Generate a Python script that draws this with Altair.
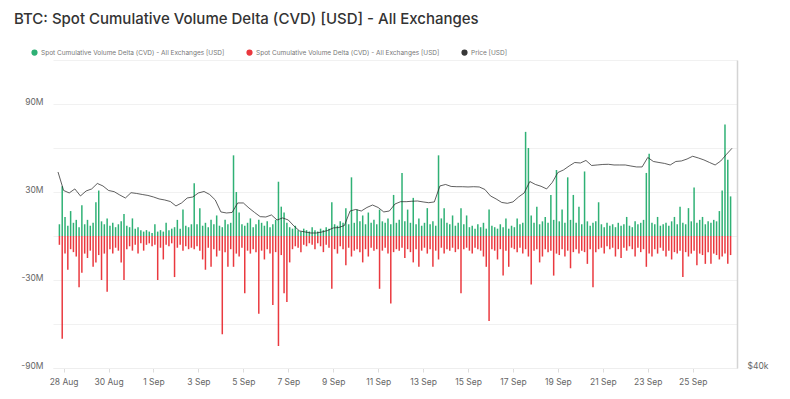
import altair as alt
import pandas as pd

TITLE = "BTC: Spot Cumulative Volume Delta (CVD) [USD] - All Exchanges"
LBL_BUY = "Spot Cumulative Volume Delta (CVD) - All Exchanges [USD]"
LBL_SELL = "Spot Cumulative Volume Delta (CVD) - All Exchanges [USD] "
LBL_PRICE = "Price [USD]"

# 3-hour buckets, starting 27 Aug 18:00 (values in USD millions)
buy_m = [
    8, 34, 13, 7, 17, 9, 11, 6, 21, 8, 11, 7, 9, 23, 31, 10, 8, 12, 7, 9, 6, 8, 10, 15,
    7, 6, 12, 5, 6, 4, 3, 4, 3, 2, 8, 3, 4, 3, 9, 4, 5, 6, 11, 5, 18, 7, 6, 8,
    36, 8, 19, 7, 9, 6, 11, 8, 14, 7, 6, 11, 8, 9, 55, 30, 16, 8, 7, 9, 12, 6, 8, 11,
    9, 7, 10, 6, 8, 11, 37, 20, 16, 9, 6, 5, 7, 4, 3, 5, 4, 3, 6, 4, 3, 5, 4, 6,
    5, 23, 8, 7, 10, 9, 19, 8, 40, 9, 18, 10, 14, 8, 16, 9, 11, 8, 18, 10, 9, 12, 8, 28,
    9, 11, 43, 10, 18, 9, 26, 8, 12, 7, 9, 19, 8, 10, 7, 55, 12, 19, 9, 8, 14, 7, 9, 19,
    8, 14, 6, 7, 5, 8, 6, 9, 5, 18, 7, 6, 5, 8, 6, 12, 5, 7, 6, 12, 8, 9, 71, 60,
    14, 9, 20, 8, 10, 13, 9, 28, 11, 45, 10, 18, 9, 40, 11, 28, 9, 20, 8, 44, 10, 7, 9, 10,
    23, 8, 6, 9, 7, 8, 6, 9, 7, 8, 13, 7, 6, 10, 8, 9, 11, 43, 56, 9, 8, 13, 7, 8,
    9, 7, 10, 13, 8, 20, 9, 8, 19, 10, 33, 9, 11, 13, 8, 10, 9, 11, 10, 17, 31, 76, 52, 27,
]
sell_m = [
    -6, -70, -12, -23, -9, -11, -14, -35, -25, -12, -15, -10, -21, -18, -13, -30, -12, -38, -9, -12, -8, -10, -18, -30,
    -9, -7, -10, -6, -12, -5, -10, -6, -5, -7, -6, -30, -8, -16, -6, -7, -5, -28, -8, -6, -10, -7, -9, -8,
    -9, -7, -10, -16, -23, -8, -21, -9, -14, -10, -67, -11, -21, -9, -21, -12, -14, -8, -39, -10, -12, -9, -11, -53,
    -10, -16, -9, -12, -47, -11, -75, -13, -39, -45, -18, -9, -7, -8, -11, -6, -7, -5, -6, -9, -5, -7, -11, -6,
    -8, -36, -9, -12, -7, -9, -20, -8, -14, -10, -9, -11, -18, -9, -14, -8, -10, -9, -36, -10, -8, -12, -46, -11,
    -9, -10, -8, -15, -9, -11, -18, -9, -21, -10, -8, -12, -9, -21, -10, -16, -8, -12, -9, -10, -8, -11, -9, -39,
    -9, -8, -10, -12, -8, -9, -10, -14, -21, -58, -9, -10, -16, -9, -27, -10, -21, -8, -9, -11, -8, -12, -9, -14,
    -33, -10, -9, -18, -14, -9, -11, -10, -27, -12, -13, -9, -14, -10, -22, -11, -9, -12, -10, -11, -19, -9, -35, -11,
    -9, -8, -12, -7, -9, -8, -14, -9, -15, -8, -10, -7, -9, -14, -8, -11, -9, -21, -12, -14, -9, -12, -8, -10,
    -14, -10, -16, -11, -12, -10, -28, -11, -14, -12, -10, -20, -12, -13, -19, -11, -19, -12, -13, -16, -14, -12, -19, -13,
]
# 6-hour samples of price (USD), starting 27 Aug 18:00
price_usd = [
    62910, 60750, 60460, 60930, 60110, 60690, 60930, 61570, 61280, 60750, 60610, 60220,
    59870, 60490, 60400, 60280, 60170, 59990, 59760, 59640, 59460, 58940, 59290, 59870,
    59990, 60460, 60630, 60280, 59640, 58240, 58120, 58180, 59290, 59290, 58700, 58180,
    57690, 57650, 57890, 57300, 57540, 57300, 56600, 56020, 55900, 55780, 55780, 55900,
    56070, 56370, 56420, 56660, 58350, 58530, 58350, 58760, 59050, 58760, 58240, 58350,
    59170, 59440, 59440, 59490, 59520, 59410, 59320, 59410, 61280, 61450, 61220, 61190,
    61190, 61160, 61190, 61160, 60870, 60110, 59760, 59350, 59250, 59410, 59990, 60460,
    61800, 61450, 61240, 60930, 61690, 62850, 63150, 63610, 64020, 63960, 64260, 63670,
    63730, 63790, 63810, 63730, 63730, 63730, 63610, 63500, 63500, 64610, 64140, 64020,
    63910, 63730, 64140, 64200, 64430, 64750, 64550, 64320, 64020, 63730, 64200, 64960,
    65680,
]
tick_dates = [(8, 28), (8, 30), (9, 1), (9, 3), (9, 5), (9, 7), (9, 9), (9, 11),
              (9, 13), (9, 15), (9, 17), (9, 19), (9, 21), (9, 23), (9, 25)]

GREEN = "#18a866"
RED = "#e8232a"
FONT = "Inter"

start = pd.Timestamp("2024-08-27 18:00")
fmt = "%Y-%m-%dT%H:%M:%S"
bars = pd.DataFrame({
    "t": [(start + pd.Timedelta(hours=3 * j + 1.5)).strftime(fmt) for j in range(len(buy_m))],
    "buy": [v * 1e6 for v in buy_m],
    "sell": [v * 1e6 for v in sell_m],
    "s_buy": LBL_BUY,
    "s_sell": LBL_SELL,
})
price = pd.DataFrame({
    "t": [(start + pd.Timedelta(hours=6 * i)).strftime(fmt) for i in range(len(price_usd))],
    "p": price_usd,
    "s": LBL_PRICE,
})

x_scale = alt.Scale(domain=[alt.DateTime(year=2024, month=8, date=27, hours=18),
                            alt.DateTime(year=2024, month=9, date=26, hours=18)])
x_axis = alt.Axis(
    values=[alt.DateTime(year=2024, month=m, date=d) for m, d in tick_dates],
    format="%-d %b", title=None, grid=False, domainColor="#eeeeee", tickColor="#dddddd",
    tickSize=4, labelFontSize=8.5, labelColor="#666666", labelFont=FONT, labelPadding=5,
)
y_scale = alt.Scale(domain=[-90e6, 120e6], nice=False)
y_axis = alt.Axis(
    values=[-90e6, -60e6, -30e6, 0, 30e6, 60e6, 90e6, 120e6],
    labelExpr="abs(datum.value) % 60000000 == 30000000 ? (datum.value / 1000000) + 'M' : ''",
    title=None, domain=False, ticks=False, gridColor="#f1f1f1", labelFontSize=8.5,
    labelColor="#666666", labelFont=FONT, labelPadding=10, labelBaseline="alphabetic",
)
color_scale = alt.Scale(domain=[LBL_BUY, LBL_SELL, LBL_PRICE], range=[GREEN, RED, "#222222"])

buy_layer = alt.Chart(bars).mark_bar(width=1.5, opacity=0.9).encode(
    x=alt.X("t:T", scale=x_scale, axis=x_axis),
    y=alt.Y("buy:Q", scale=y_scale, axis=y_axis, stack=None),
    color=alt.Color("s_buy:N", scale=color_scale, legend=alt.Legend(
        title=None, orient="none", legendX=-22, legendY=-11, direction="horizontal",
        symbolType="circle", symbolSize=22, labelFontSize=6.5, labelColor="#777777",
        labelFont=FONT, labelLimit=400, columnPadding=19, labelOffset=3)),
)
sell_layer = alt.Chart(bars).mark_bar(width=1.5, opacity=0.9).encode(
    x=alt.X("t:T", scale=x_scale),
    y=alt.Y("sell:Q", scale=y_scale, stack=None),
    color=alt.Color("s_sell:N", scale=color_scale, legend=None),
)
bars_chart = alt.layer(buy_layer, sell_layer)

price_layer = alt.Chart(price).mark_line(strokeWidth=0.9, interpolate="linear", opacity=0.8).encode(
    x=alt.X("t:T", scale=x_scale),
    y=alt.Y("p:Q", scale=alt.Scale(domain=[40000, 76000], nice=False, zero=False),
            axis=alt.Axis(orient="right", values=[40000], title=None, grid=False, ticks=False,
                          domainColor="#d4d4d4", domainWidth=1.5,
                          labelExpr="'$' + (datum.value / 1000) + 'k'", labelFontSize=8.5,
                          labelColor="#666666", labelFont=FONT, labelPadding=10,
                          labelBaseline="alphabetic")),
    color=alt.Color("s:N", scale=color_scale, legend=None),
)

chart = alt.layer(bars_chart, price_layer).resolve_scale(y="independent").properties(
    width=684, height=308,
    autosize=alt.AutoSizeParams(type="none"),
    padding={"left": 45, "top": 52, "right": 45, "bottom": 23},
    title=alt.TitleParams(TITLE, anchor="start", frame="group", dx=-39, dy=-18,
                          fontSize=15, fontWeight=500, color="#333333", font=FONT),
).configure_view(stroke=None)

chart.save("out.html", embed_options={"renderer": "svg", "actions": False})
